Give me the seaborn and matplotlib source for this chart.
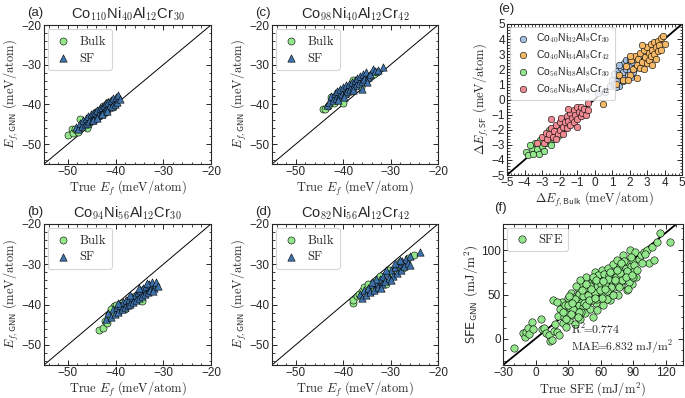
# GNN formation energy / SFE parity plots (6 panels)
import numpy as np
import pandas as pd
import matplotlib
matplotlib.use('Agg')
import matplotlib.pyplot as plt
from matplotlib.ticker import MultipleLocator
import seaborn as sns

# ---- panel (a) Co110Ni40Al12Cr30 ----
a_bulk_x = [-49.9, -49.2, -48.9, -48.5, -47.9, -47.4, -47.0, -46.4, -45.8, -45.0, -44.2, -43.5, -42.7, -42.0, -41.2, -40.6, -40.1, -41.6, -43.0, -46.0]
a_bulk_y = [-47.7, -46.3, -47.2, -46.1, -47.0, -43.6, -45.8, -44.9, -45.1, -43.0, -41.9, -42.8, -40.4, -41.8, -39.3, -40.6, -39.5, -39.4, -41.2, -45.9]
a_sf_x = [-48.3, -47.8, -47.5, -47.1, -46.8, -46.5, -46.2, -46.0, -45.7, -45.5, -45.2, -45.0, -44.8, -44.5, -44.3, -44.0, -43.8, -43.6, -43.3, -43.1,
          -42.9, -42.6, -42.4, -42.2, -42.0, -41.7, -41.5, -41.3, -41.0, -40.8, -40.5, -40.2, -40.0, -39.7, -39.4, -39.1, -44.7, -43.9, -42.8, -41.9]
a_sf_y = [-45.6, -46.1, -44.6, -45.5, -43.9, -45.0, -43.3, -44.6, -42.9, -44.2, -42.5, -43.9, -42.2, -43.5, -41.8, -42.9, -41.3, -42.6, -40.9, -42.3,
          -40.6, -41.9, -40.1, -41.4, -39.7, -41.0, -39.3, -40.7, -38.9, -40.3, -38.4, -39.8, -38.1, -39.4, -37.6, -38.6, -44.0, -43.3, -42.4, -41.6]

# ---- panel (b) Co94Ni56Al12Cr30 ----
b_bulk_x = [-43.5, -42.6, -42.3, -41.8, -41.3, -40.8, -40.3, -39.9, -39.3, -38.6, -38.0, -37.4, -36.7, -36.0, -35.2, -34.5, -34.0, -33.2, -32.5, -41.0]
b_bulk_y = [-46.2, -45.8, -44.1, -44.5, -42.6, -42.0, -40.4, -40.0, -41.5, -39.6, -41.0, -38.9, -39.5, -37.9, -38.6, -39.0, -36.2, -35.6, -36.0, -41.0]
b_sf_x = [-42.0, -41.5, -41.0, -40.6, -40.2, -39.8, -39.4, -39.0, -38.7, -38.4, -38.1, -37.8, -37.5, -37.2, -36.9, -36.6, -36.3, -36.0, -35.7, -35.4,
          -35.1, -34.8, -34.5, -34.2, -33.9, -33.6, -33.3, -33.0, -32.7, -32.4, -32.0, -31.6, -31.2, -37.0, -35.0, -33.5, -39.5, -32.2]
b_sf_y = [-43.6, -42.0, -43.0, -41.2, -42.4, -40.6, -41.8, -40.0, -41.2, -39.4, -40.7, -38.9, -40.2, -38.5, -39.8, -38.0, -39.3, -37.5, -38.8, -37.0,
          -38.3, -36.5, -37.8, -36.0, -37.3, -35.5, -36.8, -34.9, -36.3, -34.5, -35.8, -34.3, -35.4, -37.6, -36.0, -34.6, -39.7, -36.7]

# ---- panel (c) Co98Ni40Al12Cr42 ----
c_bulk_x = [-44.3, -43.8, -43.2, -42.5, -42.0, -41.4, -40.1, -40.8, -39.5, -38.9, -38.3, -37.5, -36.8, -36.2, -35.4, -34.6, -33.5, -32.9, -37.9, -39.8]
c_bulk_y = [-41.1, -41.2, -40.3, -38.2, -39.6, -38.0, -39.6, -36.8, -37.4, -35.9, -36.5, -35.0, -34.2, -35.6, -33.2, -32.8, -32.4, -31.8, -33.9, -36.0]
c_sf_x = [-43.5, -43.0, -42.6, -42.2, -41.8, -41.5, -41.2, -40.9, -40.6, -40.3, -40.0, -39.7, -39.4, -39.1, -38.8, -38.5, -38.2, -37.9, -37.6, -37.3,
          -37.0, -36.7, -36.4, -36.1, -35.8, -35.5, -35.1, -34.7, -34.3, -33.8, -33.2, -32.6, -31.5, -36.0, -39.9, -38.0, -41.0, -35.0]
c_sf_y = [-40.2, -39.4, -37.8, -39.0, -37.2, -38.5, -36.6, -37.9, -36.1, -37.5, -35.7, -37.0, -35.2, -36.6, -34.8, -36.0, -34.3, -35.5, -33.8, -35.1,
          -33.4, -34.6, -32.9, -34.1, -32.4, -33.6, -31.9, -33.0, -32.3, -31.2, -31.5, -31.3, -30.5, -36.1, -38.2, -36.3, -38.8, -34.4]

# ---- panel (d) Co82Ni56Al12Cr42 ----
d_bulk_x = [-38.0, -37.9, -37.0, -36.6, -36.0, -35.5, -34.8, -34.0, -33.4, -33.0, -32.3, -31.6, -31.0, -30.4, -29.6, -28.9, -28.0, -27.3, -26.4, -25.0]
d_bulk_y = [-39.6, -38.9, -37.8, -37.4, -36.6, -35.6, -35.0, -36.3, -36.5, -34.0, -33.0, -34.7, -35.0, -31.5, -32.6, -30.8, -29.5, -31.0, -28.4, -27.6]
d_sf_x = [-36.5, -36.0, -35.5, -35.1, -34.7, -34.3, -33.9, -33.5, -33.1, -32.7, -32.3, -31.9, -31.5, -31.1, -30.7, -30.3, -29.9, -29.5, -29.1, -28.7,
          -28.3, -27.9, -27.5, -27.1, -26.7, -26.3, -25.8, -23.8, -33.0, -31.0, -29.0, -34.0, -28.0, -30.0, -32.0, -26.0]
d_sf_y = [-37.4, -38.3, -36.5, -37.6, -35.8, -36.9, -35.0, -36.3, -34.3, -35.6, -33.6, -34.9, -32.8, -34.2, -32.1, -33.5, -31.4, -32.8, -30.7, -32.1,
          -30.0, -31.3, -29.3, -30.5, -28.6, -29.8, -28.0, -27.0, -33.7, -31.4, -29.6, -34.5, -28.9, -34.0, -35.8, -30.2]

# ---- panel (e) delta E, four compositions ----
e_blue_x = [0.2, 0.6, 0.9, 1.0, 1.1, 1.2, 1.3, 1.3, 1.4, 1.5, 1.5, 1.6, 1.6, 1.7, 1.7, 1.8, 1.8, 1.9, 1.9, 2.0,
            2.0, 2.1, 2.1, 2.2, 2.2, 2.3, 1.1, 1.4, 2.4, 1.2]
e_blue_y = [0.4, 0.5, 0.9, 1.3, 1.0, 1.6, 1.2, 1.9, 0.9, 1.5, 2.1, 1.2, 1.8, 2.4, 1.4, 2.0, 2.6, 1.6, 2.3, 2.7,
            1.9, 2.2, 1.5, 2.5, 1.8, 2.1, 1.7, 2.3, 2.6, 0.8]
e_orange_x = [0.5, 1.2, 1.4, 1.6, 1.8, 2.0, 2.1, 2.2, 2.3, 2.4, 2.4, 2.5, 2.6, 2.6, 2.7, 2.8, 2.8, 2.9, 3.0, 3.0,
              3.1, 3.1, 3.2, 3.2, 3.3, 3.3, 3.4, 3.4, 3.5, 3.5, 3.6, 3.6, 3.7, 3.8, 3.8, 4.0, 2.0, 2.7, 3.9, 1.9]
e_orange_y = [-0.3, 1.0, 1.6, 1.3, 2.2, 1.6, 2.6, 2.0, 2.9, 2.3, 1.4, 2.7, 2.1, 3.1, 2.5, 3.3, 2.0, 2.8, 3.5, 2.4,
              3.1, 2.6, 3.7, 2.9, 3.3, 2.3, 3.8, 3.0, 3.5, 2.7, 3.9, 3.2, 3.6, 4.1, 3.3, 3.7, 2.9, 3.6, 4.2, 1.3]
e_green_x = [-3.9, -3.8, -3.6, -3.5, -3.4, -3.3, -3.2, -3.1, -3.0, -2.9, -2.9, -2.8, -2.7, -2.6, -2.5, -2.4, -2.3, -2.2, -2.1, -2.0,
             -1.9, -1.8, -1.7, -3.7, -2.6]
e_green_y = [-3.5, -3.7, -3.2, -3.6, -2.9, -3.3, -3.6, -2.7, -3.1, -2.5, -3.4, -2.9, -2.3, -2.7, -3.0, -2.2, -2.6, -1.9, -2.4, -1.7,
             -2.1, -1.5, -1.9, -3.0, -2.0]
e_pink_x = [-3.3, -3.0, -2.9, -2.8, -2.7, -2.6, -2.5, -2.4, -2.3, -2.2, -2.1, -2.0, -2.0, -1.9, -1.8, -1.8, -1.7, -1.6, -1.6, -1.5,
            -1.4, -1.4, -1.3, -1.2, -1.2, -1.1, -1.0, -1.0, -0.9, -0.8, -0.8, -0.7, -0.6, -0.5, -0.4, -0.4, -1.5, -2.5, -1.0, -2.2]
e_pink_y = [-2.9, -2.5, -2.9, -2.2, -2.6, -2.3, -1.9, -2.5, -2.1, -1.7, -2.3, -1.5, -2.0, -1.2, -1.8, -2.3, -1.5, -1.1, -1.9, -1.4,
            -0.9, -1.7, -1.2, -0.7, -1.5, -1.0, -0.5, -1.3, -0.8, -1.1, -0.5, -0.9, -0.6, -1.0, -0.2, -0.7, -0.6, -1.3, -1.8, -2.6]
e_labels = [r'Co$_{\mathsf{40}}$Ni$_{\mathsf{32}}$Al$_{\mathsf{8}}$Cr$_{\mathsf{30}}$',
            r'Co$_{\mathsf{40}}$Ni$_{\mathsf{34}}$Al$_{\mathsf{8}}$Cr$_{\mathsf{42}}$',
            r'Co$_{\mathsf{56}}$Ni$_{\mathsf{38}}$Al$_{\mathsf{8}}$Cr$_{\mathsf{30}}$',
            r'Co$_{\mathsf{56}}$Ni$_{\mathsf{38}}$Al$_{\mathsf{8}}$Cr$_{\mathsf{42}}$']

# ---- panel (f) SFE ----
f_x = [-20, -12, -10, -9, -7, -6, -3, -2, 5, 6, 8, 10, 12, 13, 15, 16, 17, 18, 20, 21,
       22, 23, 24, 25, 26, 27, 28, 29, 30, 31, 32, 33, 34, 35, 36, 37, 38, 39, 40, 41,
       42, 43, 44, 45, 46, 47, 48, 49, 50, 51, 52, 53, 54, 55, 56, 57, 58, 59, 60, 61,
       62, 63, 64, 65, 66, 67, 68, 69, 70, 71, 72, 73, 74, 75, 76, 77, 78, 79, 80, 81,
       82, 83, 84, 85, 86, 87, 88, 89, 90, 91, 92, 93, 95, 97, 100, 103, 105, 107, 109, 112,
       115, 124, 35, 38, 40, 42, 44, 45, 46, 48, 50, 52, 54, 55, 57, 58, 60, 62, 63, 65,
       66, 68, 70, 72, 74, 76, 78, 80, 82, 84, 86, 88, 90, 30, 33, 36, 40, 43, 47, 51,
       53, 56, 59, 61, 64, 67, 69, 71, 73, 75, 77, 79, 83, 20, 25, 28, 31, 34, 37, 39,
       41, 49, 57, 66, 85, 89, 91, 94, 98, 101, 55, 62, 47, 64]
f_y = [-11, 6, 2, 8, 12, 5, 19, 11, 22, 11, 12, 6, 4, -3, -2, 44, 9, 17, 7, 26,
       4, 33, 41, 18, 24, 38, 13, 30, 46, 21, 35, 52, 27, 41, 16, 48, 33, 57, 38, 22,
       45, 62, 36, 52, 29, 70, 42, 58, 34, 48, 64, 24, 55, 75, 40, 60, 47, 68, 53, 78,
       38, 58, 70, 49, 63, 80, 55, 44, 67, 85, 58, 72, 63, 89, 50, 70, 82, 61, 75, 95,
       66, 80, 55, 87, 73, 100, 82, 62, 88, 77, 98, 70, 90, 95, 98, 100, 86, 104, 89, 110,
       120, 110, 33, 47, 51, 30, 48, 40, 57, 50, 60, 44, 68, 52, 45, 72, 62, 50, 73, 60,
       45, 72, 58, 76, 70, 62, 74, 66, 88, 77, 64, 92, 70, 38, 28, 45, 30, 55, 38, 56,
       70, 66, 55, 46, 62, 68, 76, 50, 66, 78, 58, 86, 70, 42, 30, 22, 48, 40, 60, 24,
       66, 44, 32, 54, 56, 72, 84, 78, 86, 96, 46, 65, 62, 56]

E_LIM = (-55, -20)
DE_LIM = (-5, 5)
SFE_XLIM = (-30, 136)
SFE_YLIM = (-30, 130)

GREEN = '#93e68b'
BLUE = '#3f72ab'
E_COLORS = ['#a8c1e3', '#f4b866', '#93e68b', '#f08a92']

sns.set_style('ticks')
plt.rcParams['font.family'] = ['Liberation Sans', 'DejaVu Sans']
plt.rcParams['mathtext.fontset'] = 'cm'
plt.rcParams['axes.linewidth'] = 0.8
for ax_ in ('x', 'y'):
    plt.rcParams[f'{ax_}tick.direction'] = 'in'
    plt.rcParams[f'{ax_}tick.major.size'] = 3.5
    plt.rcParams[f'{ax_}tick.minor.size'] = 1.8
    plt.rcParams[f'{ax_}tick.major.width'] = 0.7
    plt.rcParams[f'{ax_}tick.minor.width'] = 0.6
    plt.rcParams[f'{ax_}tick.labelsize'] = 8.5

fig = plt.figure(figsize=(6.85, 3.98), dpi=100)


def px_axes(left, top, right, bottom):
    W, H = 685, 398
    return fig.add_axes([left / W, 1 - bottom / H, (right - left) / W, (bottom - top) / H])


def style_ticks(ax, major_x, minor_x, major_y, minor_y):
    ax.xaxis.set_major_locator(MultipleLocator(major_x))
    ax.xaxis.set_minor_locator(MultipleLocator(minor_x))
    ax.yaxis.set_major_locator(MultipleLocator(major_y))
    ax.yaxis.set_minor_locator(MultipleLocator(minor_y))
    ax.tick_params(which='both', top=True, right=True)
    ax.tick_params(axis='both', which='major', pad=1.5)


def serif_legend(ax, fontsize):
    leg = ax.legend(loc='upper left', frameon=True, fancybox=True, fontsize=fontsize,
                    handletextpad=0.5, borderpad=0.4, labelspacing=0.3, handlelength=1.6,
                    borderaxespad=0.3)
    leg.get_frame().set_edgecolor('#cccccc')
    leg.get_frame().set_linewidth(0.8)
    return leg


energy_panels = [
    ('(a)', r'Co$_{\mathsf{110}}$Ni$_{\mathsf{40}}$Al$_{\mathsf{12}}$Cr$_{\mathsf{30}}$',
     (44, 25, 211, 164), a_bulk_x, a_bulk_y, a_sf_x, a_sf_y),
    ('(c)', r'Co$_{\mathsf{98}}$Ni$_{\mathsf{40}}$Al$_{\mathsf{12}}$Cr$_{\mathsf{42}}$',
     (272, 25, 438, 164), c_bulk_x, c_bulk_y, c_sf_x, c_sf_y),
    ('(b)', r'Co$_{\mathsf{94}}$Ni$_{\mathsf{56}}$Al$_{\mathsf{12}}$Cr$_{\mathsf{30}}$',
     (44, 224, 211, 365), b_bulk_x, b_bulk_y, b_sf_x, b_sf_y),
    ('(d)', r'Co$_{\mathsf{82}}$Ni$_{\mathsf{56}}$Al$_{\mathsf{12}}$Cr$_{\mathsf{42}}$',
     (272, 224, 438, 365), d_bulk_x, d_bulk_y, d_sf_x, d_sf_y),
]

for tag, title, box, bx, by, sx, sy in energy_panels:
    ax = px_axes(*box)
    ax.plot(E_LIM, E_LIM, color='k', lw=0.7, zorder=1)
    sns.scatterplot(x=bx, y=by, ax=ax, color=GREEN, marker='o', s=26,
                    edgecolor='k', linewidth=0.4, label=r'$\mathrm{Bulk}$', zorder=2)
    sns.scatterplot(x=sx, y=sy, ax=ax, color=BLUE, marker='^', s=28,
                    edgecolor='k', linewidth=0.4, label=r'$\mathrm{SF}$', zorder=3)
    ax.set_xlim(E_LIM)
    ax.set_ylim(E_LIM)
    style_ticks(ax, 10, 2, 10, 2)
    ax.set_xlabel(r'$\mathrm{True}\ E_f\ \mathrm{(meV/atom)}$', fontsize=9, labelpad=0.5)
    ax.set_ylabel(r'$E_{f,\mathsf{GNN}}\ \mathrm{(meV/atom)}$', fontsize=9, labelpad=0.5)
    ax.set_title(title, fontsize=10.5, pad=5)
    ax.text(-0.1, 1.04, tag, transform=ax.transAxes, fontsize=9.5, va='bottom')
    serif_legend(ax, 9)

# panel (e)
ax = px_axes(507, 24, 682, 175)
ax.plot(DE_LIM, DE_LIM, color='k', lw=1.3, zorder=1)
for ex, ey, col, lab in zip([e_blue_x, e_orange_x, e_green_x, e_pink_x],
                            [e_blue_y, e_orange_y, e_green_y, e_pink_y],
                            E_COLORS, e_labels):
    sns.scatterplot(x=ex, y=ey, ax=ax, color=col, marker='o', s=22,
                    edgecolor='k', linewidth=0.4, label=lab, zorder=2)
ax.set_xlim(DE_LIM)
ax.set_ylim(DE_LIM)
style_ticks(ax, 1, 0.2, 1, 0.2)
ax.set_xlabel(r'$\Delta E_{f,\mathsf{Bulk}}\ \mathrm{(meV/atom)}$', fontsize=9, labelpad=0.5)
ax.set_ylabel(r'$\Delta E_{f,\mathsf{SF}}\ \mathrm{(meV/atom)}$', fontsize=9, labelpad=0)
ax.text(-0.05, 1.06, '(e)', transform=ax.transAxes, fontsize=9.5, va='bottom')
leg = serif_legend(ax, 7.5)

# panel (f)
ax = px_axes(503, 224, 683, 365)
ax.plot(SFE_YLIM, SFE_YLIM, color='k', lw=1.3, zorder=1)
sns.scatterplot(x=f_x, y=f_y, ax=ax, color=GREEN, marker='o', s=28,
                edgecolor='k', linewidth=0.4, label=r'$\mathrm{SFE}$', zorder=2)
ax.set_xlim(SFE_XLIM)
ax.set_ylim(SFE_YLIM)
style_ticks(ax, 30, 10, 50, 12.5)
ax.set_xlabel(r'$\mathrm{True\ SFE\ (mJ/m^2)}$', fontsize=9, labelpad=0.5)
ax.set_ylabel(r'$\mathsf{SFE}_{\mathsf{GNN}}\ \mathrm{(mJ/m^2)}$', fontsize=9.5, labelpad=0)
ax.text(-0.05, 1.07, '(f)', transform=ax.transAxes, fontsize=9.5, va='bottom')
ax.text(0.38, 0.06, '$\\mathrm{R^2\\!\\!=\\!\\!0.774}$\n$\\mathrm{MAE\\!\\!=\\!\\!6.832\\ mJ/m^2}$',
        transform=ax.transAxes, fontsize=8.5, va='bottom', linespacing=1.05)
serif_legend(ax, 9)

fig.savefig('out.png', dpi=100)
